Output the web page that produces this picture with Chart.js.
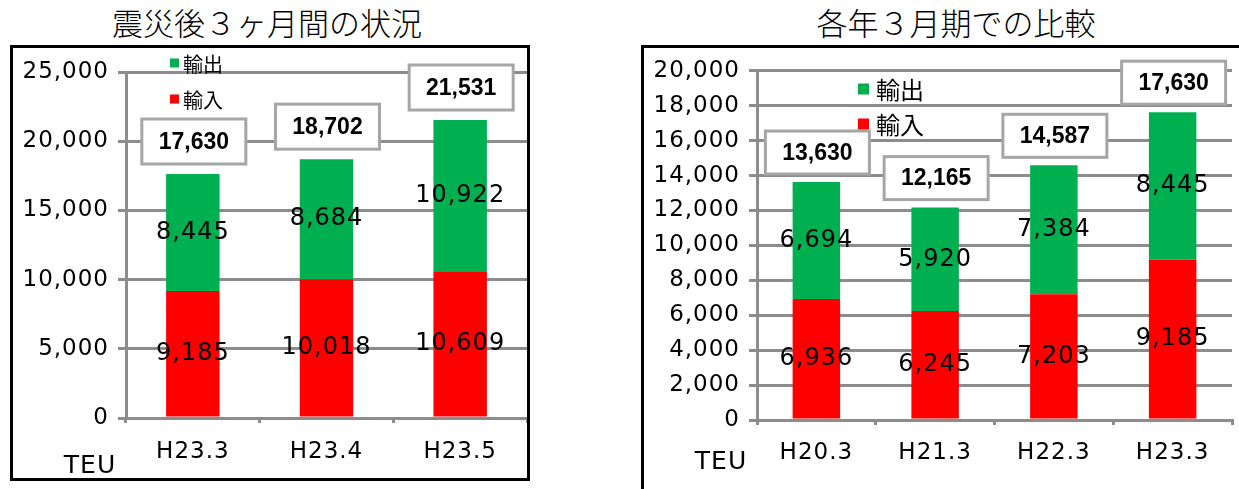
<!DOCTYPE html>
<html lang="ja">
<head>
<meta charset="utf-8">
<script src="https://cdn.jsdelivr.net/npm/chart.js@4.4.0/dist/chart.umd.min.js"></script>
<style>
    body { margin: 0; background: #fff; width: 1239px; height: 489px; overflow: hidden; position: relative; }
    .title {
        position: absolute; top: 3px; transform: translateX(-50%);
        font-family: "Noto Sans CJK JP", sans-serif; font-size: 31px; font-weight: 300;
        line-height: 38px; color: #000; white-space: nowrap;
    }
    .box { position: absolute; border: 3px solid #000; background: #fff; }
    .box canvas { display: block; }
</style>
</head>
<body>
<div class="title" style="left:267px">震災後３ヶ月間の状況</div>
<div class="title" style="left:956px">各年３月期での比較</div>
<div class="box" style="left:10px; top:45px; width:514px; height:430px;"><canvas id="leftChart" width="514" height="430"></canvas></div>
<div class="box" style="left:641px; top:45px; width:600px; height:460px;"><canvas id="rightChart" width="592" height="441"></canvas></div>

<script>
// Chart data
const leftCategories = ['H23.3', 'H23.4', 'H23.5'];
const leftImports = [9185, 10018, 10609];
const leftExports = [8445, 8684, 10922];
const leftTotals = [17630, 18702, 21531];

const rightCategories = ['H20.3', 'H21.3', 'H22.3', 'H23.3'];
const rightImports = [6936, 6245, 7203, 9185];
const rightExports = [6694, 5920, 7384, 8445];
const rightTotals = [13630, 12165, 14587, 17630];

const seriesLabels = ['輸入', '輸出'];
const seriesColors = ['#ff0000', '#00b050'];

const leftAxis = { max: 25000, step: 5000 };
const rightAxis = { max: 20000, step: 2000 };
const unitLabel = 'TEU';

const gridGray = '#8c8c8c';

function fmt(v) {
    return v.toLocaleString('en-US');
}

// Segment values, total boxes, legend and unit text
const labelPlugin = {
    id: 'extraText',
    beforeDraw(chart) {
        chart.ctx.letterSpacing = '1px';
    },
    afterDatasetsDraw(chart, args, opts) {
        const ctx = chart.ctx;
        ctx.save();
        ctx.textAlign = 'center';
        ctx.textBaseline = 'middle';
        ctx.fillStyle = '#000';
        ctx.letterSpacing = '1px';
        ctx.font = '24px "DejaVu Sans"';
        chart.data.datasets.forEach((ds, i) => {
            chart.getDatasetMeta(i).data.forEach((bar, j) => {
                ctx.fillText(fmt(ds.data[j]), bar.x, (bar.y + bar.base) / 2);
            });
        });

        // totals in boxes
        const topBars = chart.getDatasetMeta(chart.data.datasets.length - 1).data;
        ctx.letterSpacing = '0px';
        ctx.font = 'bold 23px "Liberation Sans"';
        opts.totals.forEach((t, j) => {
            const cx = topBars[j].x + 1;
            const cy = topBars[j].y - opts.gap - opts.boxH / 2;
            ctx.fillStyle = '#fff';
            ctx.fillRect(cx - opts.boxW / 2, cy - opts.boxH / 2, opts.boxW, opts.boxH);
            ctx.lineWidth = 3;
            ctx.strokeStyle = '#a6a6a6';
            ctx.strokeRect(cx - opts.boxW / 2, cy - opts.boxH / 2, opts.boxW, opts.boxH);
            ctx.fillStyle = '#000';
            ctx.fillText(fmt(t), cx, cy + 1);
        });

        // legend (top series first)
        const lg = opts.legend;
        ctx.textAlign = 'left';
        ctx.font = lg.fontSize + 'px "Noto Sans CJK JP"';
        const order = chart.data.datasets.slice().reverse();
        order.forEach((ds, k) => {
            const y = lg.y + k * lg.gap;
            ctx.fillStyle = ds.backgroundColor;
            ctx.fillRect(lg.x, y - lg.size / 2 - 1, lg.size, lg.size);
            ctx.fillStyle = '#000';
            ctx.fillText(ds.label, lg.textX, y);
        });

        // unit
        ctx.textAlign = 'center';
        ctx.letterSpacing = '1px';
        ctx.font = '25px "DejaVu Sans"';
        ctx.fillText(unitLabel, opts.unit.x, opts.unit.y);
        ctx.restore();
    }
};

function makeChart(id, cats, imports, exports, totals, axis, lay) {
    return new Chart(document.getElementById(id), {
        type: 'bar',
        data: {
            labels: cats,
            datasets: [
                { label: seriesLabels[0], data: imports, backgroundColor: seriesColors[0] },
                { label: seriesLabels[1], data: exports, backgroundColor: seriesColors[1] }
            ]
        },
        options: {
            responsive: false,
            devicePixelRatio: 1,
            animation: false,
            layout: { padding: { top: lay.top, right: lay.right, left: 0, bottom: 0 } },
            datasets: { bar: { barPercentage: 1, categoryPercentage: 0.4 } },
            plugins: {
                legend: { display: false },
                tooltip: { enabled: false },
                extraText: {
                    totals: totals, gap: lay.gap, boxW: 104, boxH: lay.boxH,
                    legend: lay.legend, unit: lay.unit
                }
            },
            scales: {
                x: {
                    stacked: true,
                    grid: { drawOnChartArea: false, drawTicks: true, tickLength: 5, color: gridGray, lineWidth: 3 },
                    border: { color: gridGray, width: 3 },
                    ticks: { color: '#000', font: { family: 'DejaVu Sans', size: 23 }, padding: lay.xPad },
                    afterFit: s => { s.height = lay.xHeight; }
                },
                y: {
                    stacked: true,
                    min: 0,
                    max: axis.max,
                    ticks: {
                        stepSize: axis.step, color: '#000', padding: 9,
                        font: { family: 'DejaVu Sans', size: 23 },
                        callback: v => fmt(v)
                    },
                    grid: { color: gridGray, lineWidth: 3, tickLength: 8 },
                    border: { color: gridGray, width: 3 },
                    afterFit: s => { s.width = lay.yWidth; }
                }
            }
        },
        plugins: [labelPlugin]
    });
}

makeChart('leftChart', leftCategories, leftImports, leftExports, leftTotals, leftAxis, {
    top: 24, right: 0, yWidth: 113, xHeight: 60, xPad: 15, gap: 10, boxH: 45,
    legend: { x: 157, textX: 170, y: 16, gap: 36, size: 9, fontSize: 20 },
    unit: { x: 77, y: 418 }
});

makeChart('rightChart', rightCategories, rightImports, rightExports, rightTotals, rightAxis, {
    top: 19, right: 4, yWidth: 113, xHeight: 69, xPad: 14, gap: 8, boxH: 43,
    legend: { x: 214, textX: 232, y: 42, gap: 35, size: 11, fontSize: 24 },
    unit: { x: 77, y: 414 }
});
</script>
</body>
</html>
